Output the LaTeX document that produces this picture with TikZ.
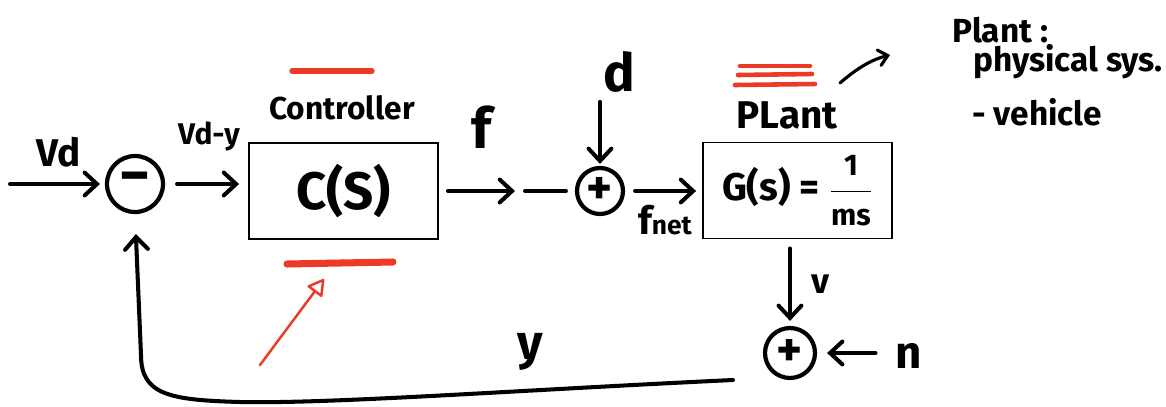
\documentclass[tikz,border=0pt]{standalone}
\usepackage{fontspec}
\setmainfont{Fira Sans}
\usetikzlibrary{arrows.meta}
\definecolor{ink}{RGB}{0,0,0}
\definecolor{marker}{RGB}{236,58,38}
\newcommand{\fs}[1]{\fontsize{#1}{#1}\selectfont\bfseries}
\begin{document}
\begin{tikzpicture}[x=0.02cm,y=-0.02cm,
  flow/.style={draw=ink, line width=2.3pt, line cap=round, line join=round,
    -{Straight Barb[length=7pt,width=13pt,line cap=round]}},
  plainline/.style={draw=ink, line width=2.3pt, line cap=round},
  block/.style={draw=ink, line width=1.1pt, minimum width=3.78cm, minimum height=1.92cm, inner sep=0pt},
  sumnode/.style={circle, draw=ink, line width=2.4pt, inner sep=0pt},
  lbl/.style={inner sep=0pt, text=ink},
  redbar/.style={draw=marker, line cap=round},
]
\useasboundingbox (0,0) rectangle (1166,406);

% summing junctions
\node[sumnode, minimum size=1.12cm] (s1) at (135,184) {\fs{34}−};
\node[sumnode, minimum size=0.92cm] (s2) at (600,191) {\fs{28}+};
\node[sumnode, minimum size=1.0cm] (s3) at (790,353) {\fs{28}+};

% blocks
\node[block] (ctrl) at (343.5,191) {\fs{30}C(S)\hspace{0.5cm}};
\node[block] (plant) at (797.5,190.5) {\fs{22}G(s) = $\displaystyle\frac{\hbox{\fs{17}1}}{\hbox{\fs{17}ms}}$};

% labels
\node[lbl] (vd) at (59,152) {\fs{22}Vd};
\node[lbl] (err) at (209,136) {\fs{17}Vd-y};
\node[lbl] (ctrlname) at (342,108) {\fs{18}Controller};
\node[lbl] (f) at (482,127) {\fs{32}f};
\node[lbl] (d) at (619,72) {\fs{30}d};
\node[lbl] (fnet) at (665,220) {\fs{22}f\fs{15}net};
\node[lbl] (plantname) at (787,115) {\fs{22}PLant};
\node[lbl] (v) at (821,284) {\fs{20}v};
\node[lbl] (n) at (909,356) {\fs{26}n};
\node[lbl] (y) at (530,352) {\fs{28}y};

% side note
\node[lbl, anchor=west] (note1) at (952,30) {\fs{19}Plant :};
\node[lbl, anchor=west] (note2) at (973,62) {\fs{19}physical sys.};
\node[lbl, anchor=west] (note3) at (972,112) {\fs{19}- vehicle};

% forward path
\coordinate (in) at (10,184);
\coordinate (brk) at (520,191);
\draw[flow, shorten >=0.1cm] (in) -- (s1.west);
\draw[flow, shorten <=0.24cm, shorten >=0.18cm] (s1.east) -- (s1.east -| ctrl.west);
\draw[flow, shorten <=0.18cm, shorten >=0.1cm] (ctrl.east) -- (brk);
\draw[plainline, shorten <=0.1cm, shorten >=0.18cm] (brk) -- (s2.west);
\draw[flow, shorten <=0.2cm, shorten >=0.12cm] (s2.east) -- (s2.east -| plant.west);
\draw[flow, shorten <=0.18cm, shorten >=0.04cm] (s2.north |- d.south) -- (s2.north);
\draw[flow, shorten <=0.18cm, shorten >=0.1cm] (plant.south -| s3.north) -- (s3.north);
\draw[flow, shorten <=0.4cm, shorten >=0.2cm] (s3.east -| n.west) -- (s3.east);

% feedback path
\coordinate (fb) at (733,380);
\draw[flow, shorten >=0.4cm] (fb) .. controls (520,390) and (330,404) .. (240,402)
  .. controls (170,400) and (141,395) .. (141,355) -- (s1.south);

% annotations
\draw[redbar, line width=3pt] (292,71) -- (372,71);
\draw[redbar, line width=4pt] (287,264) -- (393,262);
\draw[redbar, line width=2.6pt] (740,66) -- (810,66);
\draw[redbar, line width=2.6pt] (738,75) -- (812,74);
\draw[redbar, line width=2.6pt] (735,85) -- (815,84);
\coordinate (redtail) at (260,365);
\coordinate (redhead) at (324,279);
\draw[draw=marker, line width=1.4pt, line cap=round,
  -{Triangle[open,length=10pt,width=11pt,line join=round]}] (redtail) -- (redhead);
\coordinate (hinttail) at (840,83);
\coordinate (hinthead) at (890,55);
\draw[draw=ink, line width=1.8pt, line cap=round,
  -{Straight Barb[length=5pt,width=9pt,line cap=round]}]
  (hinttail) .. controls (855,70) and (870,60) .. (hinthead);
\end{tikzpicture}
\end{document}
